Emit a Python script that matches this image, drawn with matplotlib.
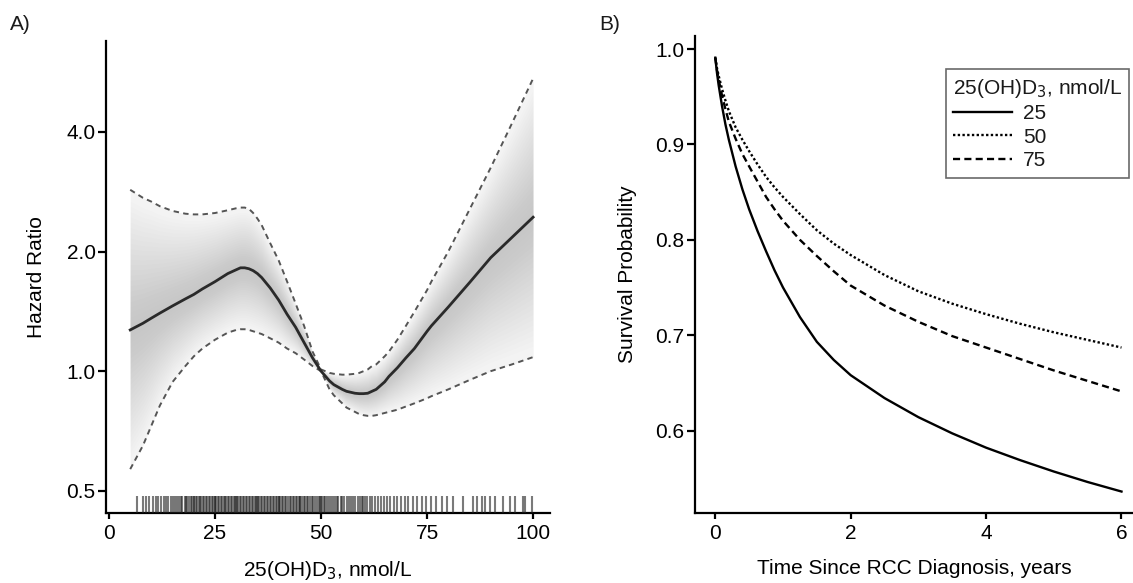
import numpy as np
import matplotlib
matplotlib.use("Agg")
import matplotlib.pyplot as plt
from matplotlib.ticker import FixedLocator, NullLocator

plt.rcParams['font.family'] = ['Liberation Sans', 'DejaVu Sans']
plt.rcParams['font.size'] = 15
plt.rcParams['text.color'] = '#1a1a1a'

# ---- panel A: spline of hazard ratio vs 25(OH)D3 ----
vit_x = [5, 8, 10, 12, 15, 18, 20, 22, 25, 28, 30, 31, 32, 33, 34, 35, 36, 38, 40,
         42, 44, 46, 48, 50, 52, 53, 55, 56, 58, 59, 60, 61, 62, 63, 65, 66, 68, 70,
         72, 75, 76, 80, 85, 90, 95, 100]
hr_est = [1.27, 1.32, 1.36, 1.40, 1.46, 1.52, 1.56, 1.61, 1.68, 1.76, 1.80, 1.82, 1.82, 1.81,
          1.79, 1.76, 1.72, 1.62, 1.51, 1.39, 1.29, 1.18, 1.08, 1.00, 0.945, 0.925, 0.90, 0.89,
          0.88, 0.878, 0.878, 0.88, 0.89, 0.90, 0.94, 0.97, 1.02, 1.08, 1.14, 1.26, 1.30, 1.45,
          1.67, 1.93, 2.17, 2.44]
hr_upper = [2.86, 2.73, 2.67, 2.60, 2.53, 2.49, 2.48, 2.48, 2.50, 2.54, 2.57, 2.58, 2.58, 2.56,
            2.50, 2.42, 2.33, 2.10, 1.90, 1.68, 1.48, 1.30, 1.12, 1.01, 0.99, 0.985, 0.98, 0.98,
            0.985, 0.99, 1.00, 1.01, 1.03, 1.04, 1.09, 1.12, 1.20, 1.30, 1.41, 1.60, 1.68, 2.00,
            2.55, 3.25, 4.20, 5.45]
hr_lower = [0.567, 0.65, 0.73, 0.82, 0.94, 1.03, 1.09, 1.14, 1.20, 1.25, 1.27, 1.275, 1.275, 1.27,
            1.26, 1.25, 1.24, 1.21, 1.18, 1.14, 1.11, 1.07, 1.03, 1.00, 0.90, 0.87, 0.83, 0.81,
            0.79, 0.78, 0.775, 0.772, 0.772, 0.775, 0.785, 0.79, 0.80, 0.815, 0.83, 0.855, 0.865,
            0.90, 0.95, 1.00, 1.04, 1.085]

# observed 25(OH)D3 values for the rug
rug_x = [6.6, 7.9, 8.8, 9.5, 10.3, 11.0, 11.6, 12.2, 12.9, 13.5, 14.0, 14.6, 15.1, 15.5, 16.0,
         16.4, 16.9, 17.3, 17.8, 18.1, 18.5, 18.9, 19.3, 19.6, 20.0, 20.0, 20.4, 20.7, 21.1, 21.4,
         21.8, 22.1, 22.5, 22.8, 23.2, 23.5, 23.9, 24.2, 24.6, 24.9, 25.0, 25.3, 25.6, 26.0, 26.3,
         26.7, 27.0, 27.4, 27.7, 28.1, 28.4, 28.8, 29.1, 29.5, 29.8, 30.0, 30.2, 30.5, 30.9, 31.2,
         31.6, 31.9, 32.3, 32.6, 33.0, 33.3, 33.7, 34.0, 34.4, 34.7, 35.0, 35.1, 35.4, 35.8, 36.1,
         36.5, 36.8, 37.2, 37.5, 37.9, 38.2, 38.6, 38.9, 39.3, 39.6, 40.0, 40.0, 40.4, 40.7, 41.1,
         41.5, 41.8, 42.2, 42.6, 42.9, 43.3, 43.7, 44.0, 44.4, 44.8, 45.0, 45.1, 45.5, 45.9, 46.2,
         46.6, 47.0, 47.4, 47.8, 48.2, 48.6, 49.0, 49.4, 49.8, 50.0, 50.2, 50.6, 51.0, 51.5, 51.9,
         52.3, 52.8, 53.2, 53.7, 54.1, 54.6, 55.0, 55.5, 56.0, 56.5, 57.0, 57.5, 58.0, 58.6, 59.1,
         59.7, 60.0, 60.3, 60.9, 61.5, 62.1, 62.7, 63.4, 64.1, 64.8, 65.5, 66.3, 67.1, 67.9, 68.8,
         69.7, 70.6, 71.6, 72.6, 73.7, 74.8, 76.0, 77.2, 78.5, 79.8, 81.0,
         83.4, 85.8, 86.7, 87.9, 88.7, 89.9, 91.0, 93.0, 94.6, 95.8, 97.7, 98.1, 99.7]

# ---- panel B: predicted survival curves ----
time_yr = [0, 0.025, 0.05, 0.1, 0.15, 0.2, 0.3, 0.4, 0.5, 0.625, 0.75, 0.875, 1, 1.25, 1.5,
           1.75, 2, 2.5, 3, 3.5, 4, 4.5, 5, 5.5, 6]
surv_25 = [0.991, 0.975, 0.962, 0.940, 0.921, 0.905, 0.877, 0.853, 0.832, 0.809, 0.788, 0.768,
           0.750, 0.719, 0.693, 0.674, 0.658, 0.634, 0.614, 0.597, 0.582, 0.569, 0.557, 0.546,
           0.536]
surv_50 = [0.991, 0.980, 0.972, 0.958, 0.946, 0.935, 0.918, 0.905, 0.893, 0.879, 0.866, 0.855,
           0.845, 0.827, 0.810, 0.796, 0.784, 0.763, 0.746, 0.733, 0.722, 0.712, 0.703, 0.695,
           0.687]
surv_75 = [0.991, 0.978, 0.968, 0.951, 0.937, 0.924, 0.906, 0.890, 0.877, 0.861, 0.845, 0.832,
           0.820, 0.800, 0.783, 0.767, 0.752, 0.731, 0.714, 0.699, 0.687, 0.675, 0.663, 0.652,
           0.641]
levels = ['25', '50', '75']

fig = plt.figure(figsize=(11.33, 5.83), dpi=100)
axA = fig.add_axes([0.0936, 0.1209, 0.3919, 0.8087])
axB = fig.add_axes([0.6134, 0.1209, 0.3866, 0.8173])

for ax in (axA, axB):
    ax.spines['top'].set_visible(False)
    ax.spines['right'].set_visible(False)
    ax.spines['left'].set_linewidth(1.6)
    ax.spines['bottom'].set_linewidth(1.6)
    ax.tick_params(axis='y', length=5.5, width=1.6, pad=2, labelsize=15)
    ax.tick_params(axis='x', length=4, width=1.6, pad=4, labelsize=15)

# panel A
xa = np.array(vit_x)
est = np.log(hr_est)
up = np.log(hr_upper)
lo = np.log(hr_lower)
# light gray shading in thin layers, a little darker near the estimate
axA.fill_between(xa, hr_lower, hr_upper, color='#f3f3f3', linewidth=0)
for f in np.linspace(0.05, 0.92, 24):
    axA.fill_between(xa, np.exp(est + f * (lo - est)), np.exp(est + f * (up - est)),
                     color='#8c8c8c', alpha=0.014, linewidth=0)
axA.plot(vit_x, hr_upper, color='#555555', lw=1.4, dashes=(2.8, 2.2))
axA.plot(vit_x, hr_lower, color='#555555', lw=1.4, dashes=(2.8, 2.2))
axA.plot(vit_x, hr_est, color='#2a2a2a', lw=2.0)
axA.vlines(rug_x, 0, 0.034, transform=axA.get_xaxis_transform(), color='#222222',
           alpha=0.6, lw=1.5, zorder=3, clip_on=False)

axA.set_yscale('log')
axA.set_xlim(-0.7, 104)
axA.set_ylim(0.441, 6.77)
axA.yaxis.set_major_locator(FixedLocator([0.5, 1, 2, 4]))
axA.yaxis.set_minor_locator(NullLocator())
axA.set_yticklabels(['0.5', '1.0', '2.0', '4.0'])
axA.set_xticks([0, 25, 50, 75, 100])
axA.set_xlabel('25(OH)D$_3$, nmol/L', fontsize=15)
axA.set_ylabel('Hazard Ratio', fontsize=15)
axA.yaxis.set_label_coords(-0.135, 0.5)
axA.xaxis.set_label_coords(0.5, -0.098)

# panel B
axB.plot(time_yr, surv_25, color='black', lw=1.7, label=levels[0])
axB.plot(time_yr, surv_50, color='black', lw=1.7, linestyle=(0, (1, 1)), label=levels[1])
axB.plot(time_yr, surv_75, color='black', lw=1.7, linestyle=(0, (3, 1.8)), label=levels[2])
axB.set_xlim(-0.3, 6.17)
axB.set_ylim(0.514, 1.0137)
axB.set_xticks([0, 2, 4, 6])
axB.set_yticks([0.6, 0.7, 0.8, 0.9, 1.0])
axB.set_yticklabels(['0.6', '0.7', '0.8', '0.9', '1.0'])
axB.set_xlabel('Time Since RCC Diagnosis, years', fontsize=15)
axB.set_ylabel('Survival Probability', fontsize=15)
axB.yaxis.set_label_coords(-0.133, 0.5)
axB.xaxis.set_label_coords(0.5, -0.098)

leg = axB.legend(title='25(OH)D$_3$, nmol/L', loc='upper left',
                 bbox_to_anchor=(0.8347, 0.8811), bbox_transform=fig.transFigure,
                 fontsize=15, title_fontsize=15, handlelength=2.85, handletextpad=0.5,
                 labelspacing=0.22, borderpad=0.35, borderaxespad=0, fancybox=False,
                 alignment='left')
leg.get_frame().set_edgecolor('#444444')
leg.get_frame().set_linewidth(1.2)

fig.text(0.009, 0.958, 'A)', fontsize=15, va='center')
fig.text(0.529, 0.958, 'B)', fontsize=15, va='center')

fig.savefig('out.png', dpi=100)
